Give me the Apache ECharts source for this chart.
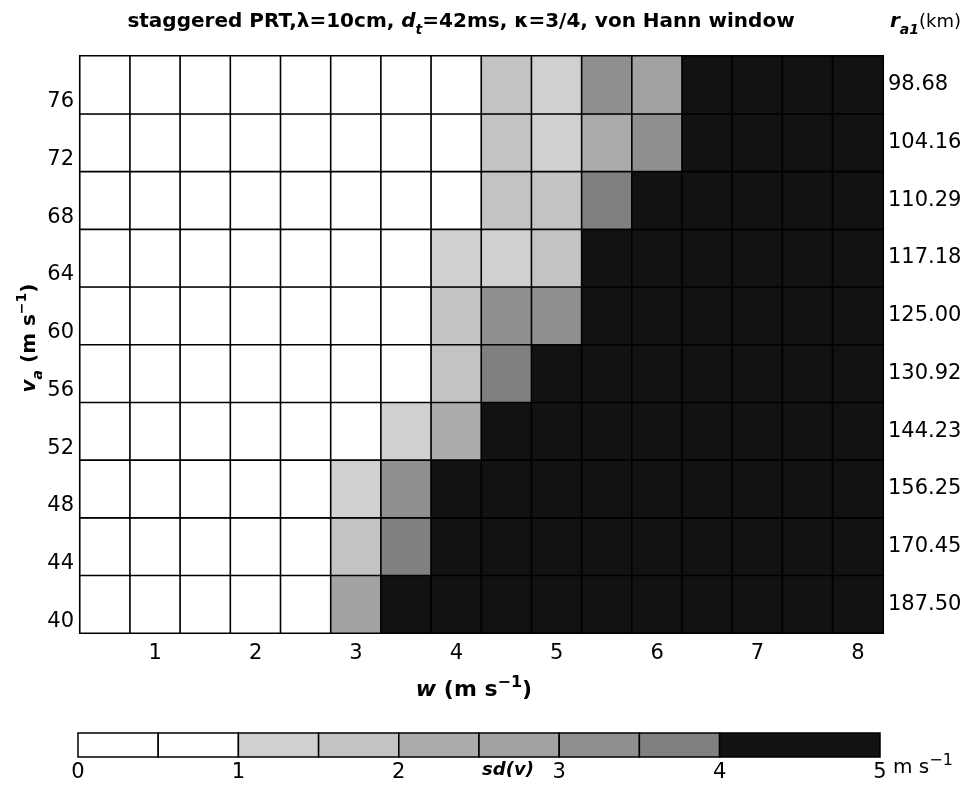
<!DOCTYPE html>
<html>
<head>
<meta charset="utf-8">
<script src="https://cdn.jsdelivr.net/npm/echarts@6/dist/echarts.min.js"></script>
<style>
  html, body { margin: 0; padding: 0; background: #ffffff; }
  #chart { width: 968px; height: 792px; }
</style>
</head>
<body>
<div id="chart"></div>
<script>
// Spectrum widths w (m/s) along the horizontal axis
const wValues = ['0.5', '1', '1.5', '2', '2.5', '3', '3.5', '4', '4.5', '5', '5.5', '6', '6.5', '7', '7.5', '8'];
// Unambiguous velocities v_a (m/s), bottom row first
const vaValues = ['40', '44', '48', '52', '56', '60', '64', '68', '72', '76'];
// Unambiguous range r_a1 (km) for each row, bottom row first
const ra1Labels = ['187.50', '170.45', '156.25', '144.23', '130.92', '125.00', '117.18', '110.29', '104.16', '98.68'];

// Standard deviation of the velocity estimate sd(v) (m/s), one array per v_a row
const sd_va40 = [0.05, 0.10, 0.18, 0.30, 0.55, 2.8, 5, 5, 5, 5, 5, 5, 5, 5, 5, 5];
const sd_va44 = [0.04, 0.08, 0.15, 0.26, 0.45, 1.6, 3.7, 5, 5, 5, 5, 5, 5, 5, 5, 5];
const sd_va48 = [0.04, 0.07, 0.13, 0.22, 0.40, 1.3, 3.2, 5, 5, 5, 5, 5, 5, 5, 5, 5];
const sd_va52 = [0.03, 0.06, 0.11, 0.19, 0.33, 0.6, 1.4, 2.3, 5, 5, 5, 5, 5, 5, 5, 5];
const sd_va56 = [0.03, 0.05, 0.10, 0.17, 0.28, 0.5, 0.85, 1.5, 3.5, 5, 5, 5, 5, 5, 5, 5];
const sd_va60 = [0.03, 0.05, 0.09, 0.15, 0.25, 0.42, 0.7, 1.6, 3.3, 3.1, 5, 5, 5, 5, 5, 5];
const sd_va64 = [0.02, 0.04, 0.08, 0.13, 0.22, 0.37, 0.6, 1.4, 1.2, 1.9, 5, 5, 5, 5, 5, 5];
const sd_va68 = [0.02, 0.04, 0.07, 0.12, 0.20, 0.33, 0.52, 0.85, 1.5, 1.8, 3.6, 5, 5, 5, 5, 5];
const sd_va72 = [0.02, 0.03, 0.06, 0.11, 0.18, 0.30, 0.47, 0.75, 1.6, 1.3, 2.4, 3.3, 5, 5, 5, 5];
const sd_va76 = [0.02, 0.03, 0.06, 0.10, 0.16, 0.27, 0.43, 0.68, 1.6, 1.3, 3.1, 2.7, 5, 5, 5, 5];

// Colour-bar bins of sd(v) (m/s)
const barStarts = [0, 0.5, 1, 1.5, 2, 2.5, 3, 3.5, 4];
const barEnds   = [0.5, 1, 1.5, 2, 2.5, 3, 3.5, 4, 5];
const barTicks  = [0, 1, 2, 3, 4, 5];

const sdRows = [sd_va40, sd_va44, sd_va48, sd_va52, sd_va56, sd_va60, sd_va64, sd_va68, sd_va72, sd_va76];
const cells = [];
sdRows.forEach(function (row, r) {
  row.forEach(function (v, c) { cells.push([c, r, v]); });
});
const barData = barStarts.map(function (s, i) { return [s, barEnds[i], (s + barEnds[i]) / 2]; });

const FONT = 'DejaVu Sans, Liberation Sans, Arial, sans-serif';

// Rich-text styles: sub/superscripts are shifted inside a taller line box
function richSet(size) {
  const small = size - 6;
  return {
    b:   { fontFamily: FONT, fontWeight: 'bold', fontSize: size, lineHeight: 30, verticalAlign: 'middle', color: '#000' },
    bi:  { fontFamily: FONT, fontWeight: 'bold', fontStyle: 'italic', fontSize: size, lineHeight: 30, verticalAlign: 'middle', color: '#000' },
    n:   { fontFamily: FONT, fontSize: size - 2, lineHeight: 30, verticalAlign: 'middle', color: '#000' },
    sub: { fontFamily: FONT, fontWeight: 'bold', fontStyle: 'italic', fontSize: small, lineHeight: 12, verticalAlign: 'bottom', color: '#000' },
    sup: { fontFamily: FONT, fontWeight: 'bold', fontSize: small, lineHeight: 12, verticalAlign: 'top', color: '#000' },
    supn:{ fontFamily: FONT, fontSize: small, lineHeight: 12, verticalAlign: 'top', color: '#000' }
  };
}

const chart = echarts.init(document.getElementById('chart'), null, { renderer: 'canvas' });

chart.setOption({
  backgroundColor: '#ffffff',
  animation: false,
  grid: [
    { left: 80, right: 85, top: 56, bottom: 159 },
    { left: 78, right: 88, top: 733, height: 24 }
  ],
  xAxis: [
    {
      type: 'category', gridIndex: 0, data: wValues,
      axisLine: { show: false }, axisTick: { show: false }, splitLine: { show: false },
      axisLabel: {
        interval: function (i, v) { return Number(v) % 1 === 0; },
        fontFamily: FONT, fontSize: 21, color: '#000', margin: 10
      }
    },
    {
      type: 'value', gridIndex: 1, min: 0, max: 5, interval: 1,
      axisLine: { show: false }, axisTick: { show: false }, splitLine: { show: false },
      axisLabel: {
        fontFamily: FONT, fontSize: 21, color: '#000', margin: 5,
        formatter: function (v) { return barTicks.indexOf(v) >= 0 ? String(v) : ''; }
      }
    }
  ],
  yAxis: [
    {
      type: 'category', gridIndex: 0, data: vaValues, position: 'left',
      axisLine: { show: false }, axisTick: { show: false }, splitLine: { show: false },
      axisLabel: { fontFamily: FONT, fontSize: 21, color: '#000', margin: 6, verticalAlign: 'top', lineHeight: 34 }
    },
    {
      type: 'category', gridIndex: 0, data: ra1Labels, position: 'right',
      axisLine: { show: false }, axisTick: { show: false }, splitLine: { show: false },
      axisLabel: { fontFamily: FONT, fontSize: 21, color: '#000', margin: 5 }
    },
    {
      type: 'value', gridIndex: 1, min: 0, max: 1, show: false
    }
  ],
  visualMap: {
    type: 'piecewise', show: false, dimension: 2, seriesIndex: [0, 1],
    pieces: [
      { gte: 0,   lt: 0.5, color: '#ffffff' },
      { gte: 0.5, lt: 1,   color: '#ffffff' },
      { gte: 1,   lt: 1.5, color: '#d0d0d0' },
      { gte: 1.5, lt: 2,   color: '#c3c3c3' },
      { gte: 2,   lt: 2.5, color: '#ababab' },
      { gte: 2.5, lt: 3,   color: '#a2a2a2' },
      { gte: 3,   lt: 3.5, color: '#8f8f8f' },
      { gte: 3.5, lt: 4,   color: '#808080' },
      { gte: 4,   color: '#121212' }
    ]
  },
  series: [
    {
      type: 'heatmap', xAxisIndex: 0, yAxisIndex: 0, data: cells,
      itemStyle: { borderColor: '#000', borderWidth: 1.6 },
      emphasis: { disabled: true }, progressive: 0
    },
    {
      type: 'custom', xAxisIndex: 1, yAxisIndex: 2, data: barData,
      encode: { x: [0, 1] },
      renderItem: function (params, api) {
        const a = api.coord([api.value(0), 1]);
        const b = api.coord([api.value(1), 0]);
        return {
          type: 'rect',
          shape: { x: a[0], y: a[1], width: b[0] - a[0], height: b[1] - a[1] },
          style: { fill: api.visual('color'), stroke: '#000', lineWidth: 1.5 }
        };
      }
    }
  ],
  graphic: [
    {
      type: 'text', x: 461, y: 22,
      style: {
        text: '{b|staggered PRT,λ=10cm, }{bi|d}{sub|t}{b|=42ms, κ=3/4, von Hann window}',
        rich: richSet(20), align: 'center', verticalAlign: 'middle'
      }
    },
    {
      type: 'text', x: 890, y: 22,
      style: {
        text: '{bi|r}{sub|a1}{n|(km)}',
        rich: richSet(20), align: 'left', verticalAlign: 'middle'
      }
    },
    {
      type: 'text', x: 30, y: 338, rotation: Math.PI / 2,
      style: {
        text: '{bi|v}{sub|a}{b| (m s}{sup|−1}{b|)}',
        rich: richSet(20), align: 'center', verticalAlign: 'middle'
      }
    },
    {
      type: 'text', x: 474, y: 690,
      style: {
        text: '{bi|w}{b| (m s}{sup|−1}{b|)}',
        rich: richSet(22), align: 'center', verticalAlign: 'middle'
      }
    },
    {
      type: 'text', x: 508, y: 770,
      style: {
        text: '{bi|sd(v)}',
        rich: richSet(18), align: 'center', verticalAlign: 'middle'
      }
    },
    {
      type: 'text', x: 893, y: 768,
      style: {
        text: '{n|m s}{supn|−1}',
        rich: richSet(22), align: 'left', verticalAlign: 'middle'
      }
    }
  ]
});
</script>
</body>
</html>
